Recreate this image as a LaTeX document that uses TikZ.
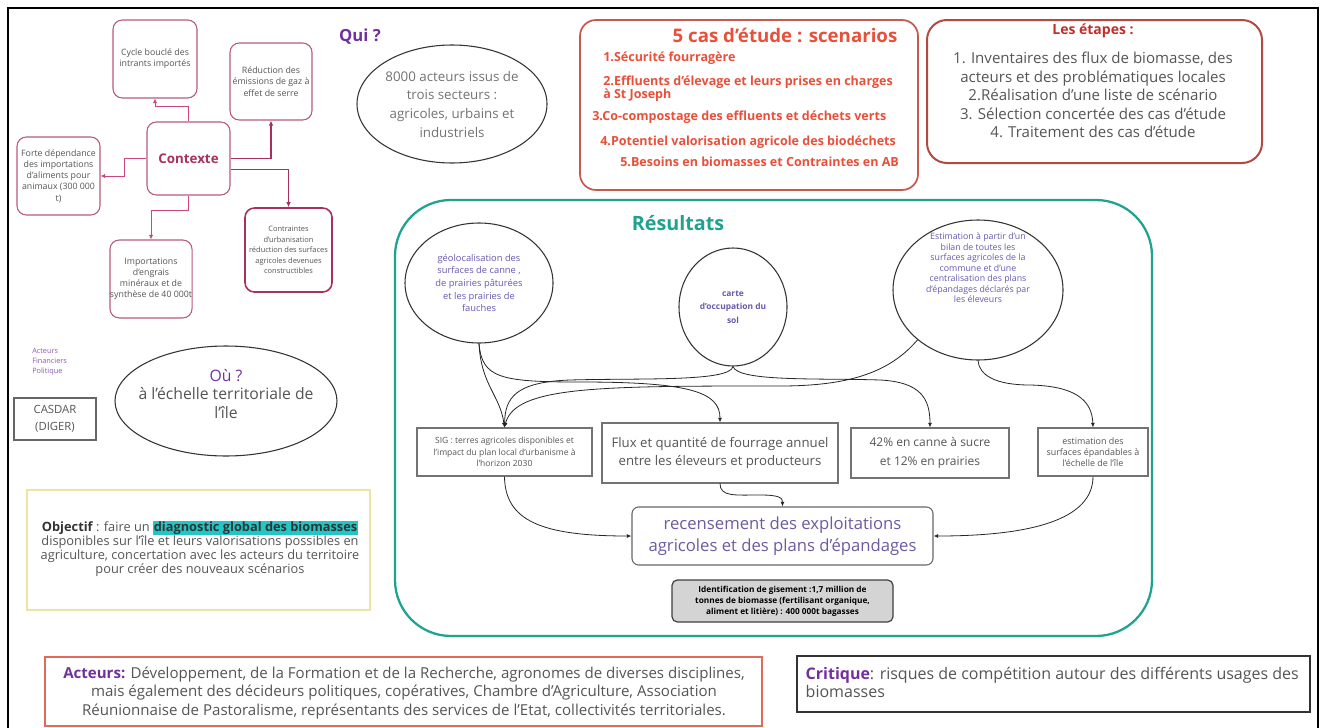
\documentclass[tikz,border=0pt]{standalone}
\usepackage{fontspec}
\setmainfont{Open Sans}
\usetikzlibrary{shapes.geometric,arrows.meta,calc}
\definecolor{ctxline}{HTML}{C94680}
\definecolor{ctxdark}{HTML}{A8305E}
\definecolor{ctxborder}{HTML}{B85A80}
\definecolor{qpurple}{HTML}{7030A0}
\definecolor{casred}{HTML}{E8503A}
\definecolor{casborder}{HTML}{C65A4E}
\definecolor{etborder}{HTML}{B34A42}
\definecolor{ettitle}{HTML}{C0302B}
\definecolor{restal}{HTML}{1FA38E}
\definecolor{txtgray}{HTML}{555555}
\definecolor{circtxt}{HTML}{6A58B0}
\definecolor{recpurple}{HTML}{6E5A9E}
\definecolor{objborder}{HTML}{EFE3A0}
\definecolor{hilite}{HTML}{22C6C6}
\definecolor{actborder}{HTML}{E06A5C}
\definecolor{gbfill}{HTML}{D4D4D4}
\begin{document}
\begin{tikzpicture}[x=0.75pt,y=-0.75pt,
  wh/.style 2 args={minimum width=#1*0.75pt,minimum height=#2*0.75pt,inner sep=0pt},
  ctxbox/.style={draw=ctxborder,line width=0.8pt,rounded corners=7pt,fill=white,align=center,text=txtgray,font=\fontsize{6.6}{8.4}\selectfont},
  ctxarrow/.style={draw=ctxline,line width=0.6pt,-{Latex[length=3.5pt,width=3.2pt]}},
  ctxarrowb/.style={draw=ctxdark,line width=1.1pt,-{Latex[length=3.8pt,width=3.5pt]}},
  oval/.style={ellipse,draw=black!80,line width=0.8pt},
  restext/.style={align=center,text=circtxt,font=\fontsize{7}{9.4}\selectfont},
  resarrow/.style={draw=black!85,line width=0.6pt,-{Latex[length=3.5pt,width=3pt]}},
  sqbox/.style={draw=black!55,line width=0.8pt,fill=white,align=center,text=txtgray},
  casitem/.style={font=\bfseries\fontsize{9.4}{11}\selectfont,text=casred,inner sep=0pt,anchor=west},
]
\useasboundingbox (0,0) rectangle (1328,728);
\fill[white] (0,0) rectangle (1328,728);
\draw[line width=1.6pt] (8,735) -- (8,8) -- (1318,8) -- (1318,735);

% ---------- Contexte cluster ----------
\node[ctxbox,wh={84}{78}] (t1) at (155,59) {Cycle bouclé des\\intrants importés};
\node[ctxbox,wh={82}{77}] (t2) at (271,81.5) {Réduction des\\émissions de gaz à\\effet de serre};
\node[ctxbox,wh={83}{73},font=\bfseries\fontsize{10}{12}\selectfont,text=ctxdark] (ctx) at (188.5,158.5) {Contexte};
\node[ctxbox,wh={83}{78}] (lft) at (58.5,176) {Forte dépendance\\des importations\\d'aliments pour\\animaux (300 000\\t)};
\node[ctxbox,wh={82}{78}] (bot) at (151,279) {Importations\\d'engrais\\minéraux et de\\synthèse de 40 000t};
\node[ctxbox,wh={87}{84},draw=ctxdark,line width=1.2pt,font=\fontsize{5.6}{7.9}\selectfont] (brt) at (288.5,250) {Contraintes\\d'urbanisation\\réduction des surfaces\\agricoles devenues\\constructibles};
\draw[ctxarrow] (ctx.north) -- ++(0,-15) -| (t1.south);
\draw[ctxarrowb] (ctx.east) -| (t2.south);
\draw[ctxarrow] (ctx.west) -- ++(-22,0) |- (lft.east);
\draw[ctxarrow] (ctx.south) -- ++(0,15) -| (bot.north);
\draw[ctxarrowb] ($(ctx.east)+(0,11)$) -| (brt.north);

% ---------- Qui ----------
\node[font=\bfseries\fontsize{12.5}{15}\selectfont,text=qpurple] (qui) at (360,37) {Qui ?};
\node[oval,wh={190}{118}] (e1) at (452,104) {};
\node[align=center,text=black!55,font=\fontsize{10}{14}\selectfont] (e1t) at (e1) {8000 acteurs issus de\\trois secteurs :\\agricoles, urbains et\\industriels};

% ---------- 5 cas ----------
\node[draw=casborder,line width=1.3pt,rounded corners=12pt,wh={338}{170}] (cas) at (749,105) {};
\node[font=\bfseries\fontsize{14}{16}\selectfont,text=casred,anchor=east] (castitle) at (902,35) {5 cas d'étude : scenarios};
\node[casitem] (ci1) at (603,58) {1.Sécurité fourragère};
\node[casitem] (ci2) at (603,82) {2.Effluents d'élevage et leurs prises en charges};
\node[casitem] (ci2b) at (603,95) {à St Joseph};
\node[casitem] (ci3) at (592,117) {3.Co-compostage des effluents et déchets verts};
\node[casitem] (ci4) at (600,142) {4.Potentiel valorisation agricole des biodéchets};
\node[casitem] (ci5) at (620,162) {5.Besoins en biomasses et Contraintes en AB};

% ---------- Les etapes ----------
\node[draw=etborder,line width=1.5pt,rounded corners=15pt,wh={335}{143}] (et) at (1094.5,91.5) {};
\node[font=\bfseries\fontsize{10.5}{12}\selectfont,text=ettitle] (ettl) at (1093,31) {Les étapes :};
\node[align=center,text=txtgray,font=\fontsize{11.3}{13.9}\selectfont] (etx) at (1093,95) {1. Inventaires des flux de biomasse, des\\acteurs et des problématiques locales\\2.Réalisation d'une liste de scénario\\3. Sélection concertée des cas d'étude\\4. Traitement des cas d'étude};

% ---------- Resultats ----------
\node[draw=restal,line width=1.7pt,rounded corners=42pt,wh={757}{436}] (res) at (773.5,418) {};
\node[font=\bfseries\fontsize{14.8}{16}\selectfont,text=restal] (restitle) at (678,223) {Résultats};

\node[oval,wh={148}{120}] (c1) at (479,283) {};
\node[restext] (c1t) at (c1) {géolocalisation des\\surfaces de canne ,\\de prairies pâturées\\et les prairies de\\fauches};
\node[oval,wh={108}{118}] (c2) at (733,307) {};
\node[restext,font=\bfseries\fontsize{6.3}{10}\selectfont] (c2t) at (c2) {carte\\d'occupation du\\sol};
\node[oval,wh={170}{140}] (c3) at (978,290) {};
\node[restext,font=\fontsize{6.6}{7.9}\selectfont] (c3t) at (978,268) {Estimation à partir d'un\\bilan de toutes les\\surfaces agricoles de la\\commune et d'une\\centralisation des plans\\d'épandages déclarés par\\les éleveurs};

\node[sqbox,wh={175}{48},font=\fontsize{6.4}{8.5}\selectfont] (b1) at (504.5,452) {SIG : terres agricoles disponibles et\\l'impact du plan local d'urbanisme à\\l'horizon 2030};
\node[sqbox,wh={236}{60},font=\fontsize{9.9}{13.5}\selectfont] (b2) at (720,453) {Flux et quantité de fourrage annuel\\entre les éleveurs et producteurs};
\node[sqbox,wh={158}{50},font=\fontsize{9}{14}\selectfont] (b3) at (930,453) {42\% en canne à sucre\\et 12\% en prairies};
\node[sqbox,wh={110}{48},font=\fontsize{6.7}{8.5}\selectfont] (b4) at (1093,452) {estimation des\\surfaces épandables à\\l'échelle de l'île};

\node[draw=black!60,line width=0.8pt,rounded corners=5pt,wh={301}{58},align=center,text=recpurple,font=\fontsize{12.5}{16}\selectfont] (rc) at (782.5,536) {recensement des exploitations\\agricoles et des plans d'épandages};
\node[draw=black!75,line width=0.9pt,rounded corners=4pt,fill=gbfill,wh={221}{42},align=center,font=\bfseries\fontsize{6.2}{8.2}\selectfont] (gb) at (782.5,601) {Identification de gisement :1,7 million de\\tonnes de biomasse (fertilisant organique,\\aliment et litière) : 400 000t bagasses};

\draw[resarrow] (c1.south) .. controls (481,385) and (500,395) .. (b1.north);
\draw[resarrow] (c1.south) .. controls (482,378) and (500,382) .. (580,382) .. controls (690,382) and (720,392) .. (b2.north);
\draw[resarrow] (c2.south) .. controls (730,382) and (640,378) .. (570,380) .. controls (515,382) and (505,398) .. (b1.north);
\draw[resarrow] (c2.south) .. controls (738,382) and (820,378) .. (880,380) .. controls (920,382) and (930,398) .. (b3.north);
\draw[resarrow] (c3.south west) .. controls (890,372) and (850,386) .. (780,386) .. controls (600,386) and (515,386) .. (b1.north);
\draw[resarrow] (c3.south) .. controls (979,375) and (995,385) .. (1030,385) .. controls (1075,386) and (1092,400) .. (b4.north);
\draw[resarrow] (b1.south) .. controls (505,520) and (540,536) .. (rc.west);
\draw[resarrow] (b2.south) .. controls (720,497) and (735,495) .. (760,495) .. controls (780,495) and (782.5,498) .. (rc.north);
\draw[resarrow] (b4.south) .. controls (1093,520) and (1030,536) .. (rc.east);

% ---------- Left side ----------
\node[anchor=north west,align=left,text=qpurple!80,font=\fontsize{5.5}{7.5}\selectfont,inner sep=0pt] (fin) at (32,348) {Acteurs\\Financiers\\Politique};
\node[draw=black!60,line width=0.8pt,wh={82}{42},align=center,font=\fontsize{8.5}{12.5}\selectfont,text=txtgray] (casdar) at (55,419) {CASDAR\\(DIGER)};
\node[oval,wh={222}{110}] (ou) at (226,401) {};
\node[align=center,font=\fontsize{11.8}{14}\selectfont,text=txtgray] (out) at (226,394) {{\color{qpurple}Où ?}\\à l'échelle territoriale de\\l'île};

\node[draw=objborder,line width=1pt,wh={343}{120}] (obj) at (198.5,550) {};
\node[align=center,text=txtgray,font=\fontsize{9.6}{10.6}\selectfont] (objt) at (200,549) {\textbf{\color{black!80}Objectif} : faire un {\setlength{\fboxsep}{0.6pt}\colorbox{hilite}{\textbf{\color{black!80}diagnostic global des biomasses}}}\\disponibles sur l'île et leurs valorisations possibles en\\agriculture, concertation avec les acteurs du territoire\\pour créer des nouveaux scénarios};

% ---------- Bottom ----------
\node[draw=actborder,line width=1pt,wh={717}{69}] (act) at (403.5,691.5) {};
\node[align=center,text=txtgray,font=\fontsize{11.3}{14}\selectfont] (actt) at (404,693) {\textbf{\color{qpurple}Acteurs:} Développement, de la Formation et de la Recherche,  agronomes de diverses disciplines,\\mais également des décideurs politiques, copératives, Chambre d'Agriculture, Association\\Réunionnaise de Pastoralisme, représentants des services de l'Etat, collectivités territoriales.};
\node[draw=black!80,line width=1pt,wh={513}{56}] (crit) at (1053.5,684) {};
\node[anchor=west,align=left,text=txtgray,font=\fontsize{12}{13.5}\selectfont] (critt) at (801,682) {\textbf{\color{qpurple}Critique}: risques de compétition autour des différents usages des\\biomasses};
\end{tikzpicture}
\end{document}
